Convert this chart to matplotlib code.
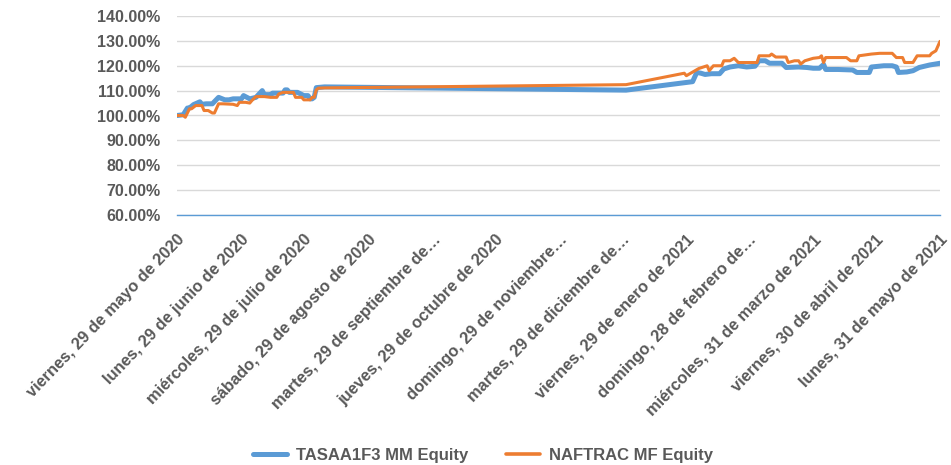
import matplotlib
matplotlib.use("Agg")
import matplotlib.pyplot as plt
import matplotlib.dates as mdates
import matplotlib.ticker as mticker
import pandas as pd

plt.rcParams['font.family'] = ['Liberation Sans', 'DejaVu Sans']

# --- Data ---
tasa_dates = [
    "2020-05-29", "2020-06-01", "2020-06-03", "2020-06-04", "2020-06-06", "2020-06-09",
    "2020-06-10", "2020-06-12", "2020-06-15", "2020-06-18", "2020-06-21", "2020-06-23",
    "2020-06-25", "2020-06-29", "2020-06-30", "2020-07-03", "2020-07-06", "2020-07-09",
    "2020-07-10", "2020-07-13", "2020-07-14", "2020-07-19", "2020-07-20", "2020-07-21",
    "2020-07-22", "2020-07-26", "2020-07-29", "2020-07-31", "2020-08-01", "2020-08-02",
    "2020-08-03", "2020-08-04", "2020-08-08", "2020-10-15", "2020-12-31",
    "2021-02-01", "2021-02-03", "2021-02-05", "2021-02-07", "2021-02-10", "2021-02-14",
    "2021-02-16", "2021-02-19", "2021-02-23", "2021-02-27", "2021-03-03", "2021-03-05",
    "2021-03-08", "2021-03-10", "2021-03-16", "2021-03-18", "2021-03-24", "2021-03-28",
    "2021-03-31", "2021-04-03", "2021-04-05", "2021-04-06", "2021-04-12", "2021-04-19",
    "2021-04-21", "2021-04-27", "2021-04-28", "2021-05-04", "2021-05-08", "2021-05-10",
    "2021-05-11", "2021-05-15", "2021-05-18", "2021-05-21", "2021-05-26", "2021-05-31",
]
tasa_values = [
    100.0, 100.3, 103.0, 103.0, 104.4, 105.5,
    104.5, 104.7, 104.7, 107.3, 106.3, 106.3,
    106.7, 106.7, 108.0, 106.7, 107.3, 110.0,
    108.4, 108.4, 109.0, 109.0, 110.3, 110.3,
    109.3, 109.3, 108.0, 108.0, 106.7, 106.7,
    107.3, 111.2, 111.5, 110.9, 110.2,
    113.6, 117.3, 117.0, 116.5, 116.8, 116.8,
    118.7, 119.5, 120.0, 119.5, 119.8, 122.0,
    122.0, 121.0, 121.0, 119.3, 119.5, 119.3,
    119.0, 119.0, 120.5, 118.5, 118.5, 118.3,
    117.3, 117.3, 119.5, 120.0, 120.0, 119.5,
    117.3, 117.5, 118.0, 119.3, 120.3, 121.0,
]

naftrac_dates = [
    "2020-05-29", "2020-06-01", "2020-06-02", "2020-06-04", "2020-06-05", "2020-06-07",
    "2020-06-10", "2020-06-11", "2020-06-13", "2020-06-15", "2020-06-16", "2020-06-18",
    "2020-06-20", "2020-06-25", "2020-06-27", "2020-06-28", "2020-07-01", "2020-07-03",
    "2020-07-04", "2020-07-06", "2020-07-10", "2020-07-13", "2020-07-16", "2020-07-17",
    "2020-07-19", "2020-07-24", "2020-07-25", "2020-07-28", "2020-07-29", "2020-08-01",
    "2020-08-02", "2020-08-03", "2020-08-04", "2020-08-05", "2020-08-08", "2020-10-15",
    "2020-12-31",
    "2021-01-28", "2021-01-29", "2021-02-04", "2021-02-08", "2021-02-09", "2021-02-11",
    "2021-02-15", "2021-02-16", "2021-02-19", "2021-02-21", "2021-02-23", "2021-03-04",
    "2021-03-05", "2021-03-10", "2021-03-11", "2021-03-13", "2021-03-18", "2021-03-19",
    "2021-03-22", "2021-03-24", "2021-03-25", "2021-03-27", "2021-03-31", "2021-04-03",
    "2021-04-04", "2021-04-05", "2021-04-06", "2021-04-16", "2021-04-18", "2021-04-21",
    "2021-04-22", "2021-04-28", "2021-05-02", "2021-05-08", "2021-05-10", "2021-05-13",
    "2021-05-14", "2021-05-18", "2021-05-20", "2021-05-26", "2021-05-27", "2021-05-29",
    "2021-05-31",
]
naftrac_values = [
    100.0, 100.0, 99.3, 102.7, 102.7, 104.0,
    104.0, 102.0, 102.0, 101.0, 101.0, 104.7,
    104.7, 104.5, 104.0, 105.3, 105.3, 105.0,
    106.0, 107.6, 107.6, 107.3, 107.3, 108.7,
    109.3, 109.3, 107.3, 107.3, 106.3, 106.3,
    107.3, 107.3, 110.3, 111.0, 111.1, 111.7,
    112.4,
    117.0, 116.0, 118.9, 120.0, 118.0, 120.0,
    120.0, 122.0, 122.0, 123.0, 121.3, 121.3,
    124.0, 124.0, 124.7, 123.5, 123.5, 121.3,
    122.0, 122.0, 120.7, 122.0, 123.0, 123.3,
    124.0, 121.3, 123.3, 123.3, 122.0, 122.0,
    124.0, 124.7, 125.0, 125.0, 123.3, 123.3,
    121.3, 121.3, 124.0, 124.0, 125.0, 126.0,
    129.8,
]

tick_dates = [
    "2020-05-29", "2020-06-29", "2020-07-29", "2020-08-29", "2020-09-29", "2020-10-29",
    "2020-11-29", "2020-12-29", "2021-01-29", "2021-02-28", "2021-03-31", "2021-04-30",
    "2021-05-31",
]
tick_labels = [
    "viernes, 29 de mayo de 2020", "lunes, 29 de junio de 2020",
    "miércoles, 29 de julio de 2020", "sábado, 29 de agosto de 2020",
    "martes, 29 de septiembre de…", "jueves, 29 de octubre de 2020",
    "domingo, 29 de noviembre…", "martes, 29 de diciembre de…",
    "viernes, 29 de enero de 2021", "domingo, 28 de febrero de…",
    "miércoles, 31 de marzo de 2021", "viernes, 30 de abril de 2021",
    "lunes, 31 de mayo de 2021",
]
series_names = ["TASAA1F3 MM Equity", "NAFTRAC MF Equity"]

# --- Plot ---
fig = plt.figure(figsize=(9.51, 4.65), dpi=100)
ax = fig.add_axes([177/951, 1-215/465, (940-177)/951, (215-16)/465])

blue = "#5B9BD5"
orange = "#ED7D31"
text_c = "#595959"

ax.plot(pd.to_datetime(tasa_dates), [v/100 for v in tasa_values], color=blue, lw=3.6,
        solid_capstyle='round', solid_joinstyle='round', label=series_names[0], zorder=3)
ax.plot(pd.to_datetime(naftrac_dates), [v/100 for v in naftrac_values], color=orange, lw=2.2,
        solid_capstyle='round', solid_joinstyle='round', label=series_names[1], zorder=4)

ax.set_ylim(0.6, 1.4)
ax.set_yticks([0.6 + 0.1*i for i in range(9)])
ax.yaxis.set_major_formatter(mticker.FuncFormatter(lambda v, p: f"{v*100:.2f}%"))
ax.set_xlim(pd.Timestamp("2020-05-29"), pd.Timestamp("2021-05-31"))

tks = [mdates.date2num(pd.Timestamp(d)) for d in tick_dates]
ax.set_xticks(tks)
ax.set_xticklabels(tick_labels, rotation=46, ha='right', va='top', rotation_mode='anchor')

ax.grid(axis='y', color='#D9D9D9', lw=1.0, zorder=0)
ax.set_axisbelow(True)
for s in ['top', 'right', 'left']:
    ax.spines[s].set_visible(False)
ax.spines['bottom'].set_color(blue)
ax.spines['bottom'].set_linewidth(1.0)
ax.spines['bottom'].set_zorder(2)
ax.tick_params(axis='both', length=0, labelsize=11.5, labelcolor=text_c)
ax.tick_params(axis='x', labelsize=11.8, pad=12)
ax.tick_params(axis='y', pad=12)
for lab in ax.get_xticklabels() + ax.get_yticklabels():
    lab.set_fontweight('bold')

leg = fig.legend(loc='center', bbox_to_anchor=(483/951, 1-455/465), ncol=2, frameon=False,
                 prop={'size': 12, 'weight': 'bold'}, handlelength=2.0, columnspacing=2.3,
                 handletextpad=0.55)
for t in leg.get_texts():
    t.set_color(text_c)
for h in leg.get_lines():
    h.set_linewidth(3.6 if h.get_color() == blue else 2.6)

fig.savefig("out.png", dpi=100)
